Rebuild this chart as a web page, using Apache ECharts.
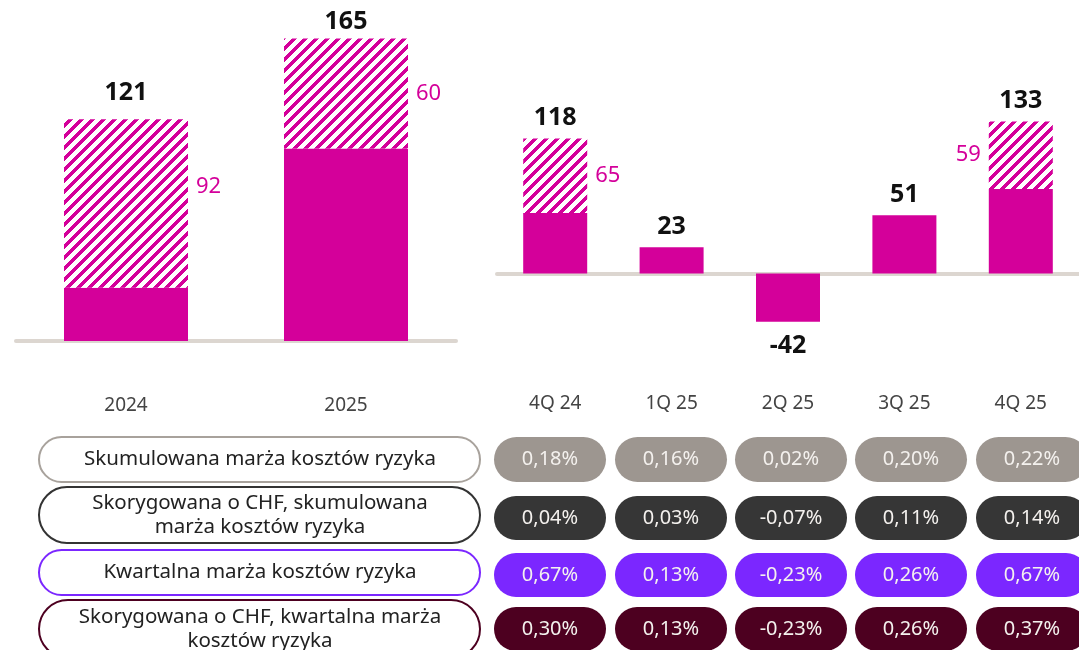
<!DOCTYPE html>
<html>
<head>
<meta charset="utf-8">
<script src="https://cdn.jsdelivr.net/npm/echarts@6/dist/echarts.min.js"></script>
<style>
  html, body { margin: 0; padding: 0; background: #fff; }
  #chart { width: 1079px; height: 650px; }
</style>
</head>
<body>
<div id="chart"></div>
<script>
// dane roczne
var years = ['2024', '2025'];
var yearTotal = [121, 165];
var yearHatch = [92, 60];

// dane kwartalne
var quarters = ['4Q 24', '1Q 25', '2Q 25', '3Q 25', '4Q 25'];
var quarterTotal = [118, 23, -42, 51, 133];
var quarterHatch = [65, null, null, null, 59];

// tabela marż
var rowLabels = [
  'Skumulowana marża kosztów ryzyka',
  'Skorygowana o CHF, skumulowana\nmarża kosztów ryzyka',
  'Kwartalna marża kosztów ryzyka',
  'Skorygowana o CHF, kwartalna marża\nkosztów ryzyka'
];
var rowCumulative = [0.18, 0.16, 0.02, 0.20, 0.22];
var rowCumulativeChf = [0.04, 0.03, -0.07, 0.11, 0.14];
var rowQuarterly = [0.67, 0.13, -0.23, 0.26, 0.67];
var rowQuarterlyChf = [0.30, 0.13, -0.23, 0.26, 0.37];

var MAGENTA = '#d4009a';
var FONT = '"Noto Sans", "Open Sans", sans-serif';

function solidPart(total, hatch) {
  return total.map(function (t, i) { return hatch[i] == null ? t : t - hatch[i]; });
}

// wzór kreskowania
function makeHatch() {
  var p = 11, w = 5;
  var c = document.createElement('canvas');
  c.width = p; c.height = p;
  var ctx = c.getContext('2d');
  var img = ctx.createImageData(p, p);
  for (var y = 0; y < p; y++) {
    for (var x = 0; x < p; x++) {
      var k = (y * p + x) * 4;
      var on = ((x + y) % p) < w;
      img.data[k] = on ? 0xd4 : 255;
      img.data[k + 1] = on ? 0x00 : 255;
      img.data[k + 2] = on ? 0x9a : 255;
      img.data[k + 3] = 255;
    }
  }
  ctx.putImageData(img, 0, 0);
  return c;
}
var hatchFill = { image: makeHatch(), repeat: 'repeat' };

function fmtPct(v) {
  return v.toFixed(2).replace('.', ',') + '%';
}

// tabela jako grafika
var graphic = [];
var labelBoxes = [
  { y: 437, h: 45, stroke: '#a8a29c' },
  { y: 487, h: 56, stroke: '#333333' },
  { y: 550, h: 45, stroke: '#7b27ff' },
  { y: 600, h: 58, stroke: '#4d0020' }
];
var valueRows = [
  { y: 437, h: 45, fill: '#9d9690', data: rowCumulative },
  { y: 496, h: 44, fill: '#363636', data: rowCumulativeChf },
  { y: 553, h: 44, fill: '#7b27ff', data: rowQuarterly },
  { y: 607, h: 44, fill: '#4d0020', data: rowQuarterlyChf }
];
var colCenters = [550, 671, 791, 911, 1032];

labelBoxes.forEach(function (b, i) {
  graphic.push({
    type: 'rect', silent: true,
    shape: { x: 39, y: b.y, width: 441, height: b.h, r: b.h / 2 },
    style: { fill: '#fff', stroke: b.stroke, lineWidth: 2 }
  });
  graphic.push({
    type: 'text', silent: true,
    x: 260, y: b.y + b.h / 2,
    style: {
      text: rowLabels[i], fill: '#222', font: '20.5px ' + FONT,
      lineHeight: 24, align: 'center', verticalAlign: 'middle'
    }
  });
});

valueRows.forEach(function (row) {
  row.data.forEach(function (v, j) {
    graphic.push({
      type: 'rect', silent: true,
      shape: { x: colCenters[j] - 56, y: row.y, width: 112, height: row.h, r: row.h / 2 },
      style: { fill: row.fill }
    });
    graphic.push({
      type: 'text', silent: true,
      x: colCenters[j], y: row.y + row.h / 2,
      style: {
        text: fmtPct(v), fill: '#f4f1ee', font: '20px ' + FONT,
        align: 'center', verticalAlign: 'middle'
      }
    });
  });
});

var totalLabel = {
  show: true, position: 'top', distance: 8,
  color: '#111', fontFamily: FONT, fontSize: 25, fontWeight: 'bold'
};
var hatchLabel = {
  show: true, position: 'right', distance: 8,
  color: MAGENTA, fontFamily: FONT, fontSize: 22
};

var chart = echarts.init(document.getElementById('chart'));
chart.setOption({
  animation: false,
  backgroundColor: '#fff',
  grid: [
    { left: 16, width: 440, top: 11, height: 330 },
    { left: 497, width: 582, top: 102, height: 286 }
  ],
  xAxis: [
    {
      type: 'category', gridIndex: 0, data: years,
      axisLine: { lineStyle: { color: '#dcd6d0', width: 4 } },
      axisTick: { show: false },
      axisLabel: { color: '#444', fontFamily: FONT, fontSize: 19, margin: 55 }
    },
    {
      type: 'category', gridIndex: 1, data: quarters,
      axisLine: { onZero: true, lineStyle: { color: '#dcd6d0', width: 4 } },
      axisTick: { show: false },
      axisLabel: { color: '#444', fontFamily: FONT, fontSize: 19, margin: 6 }
    }
  ],
  yAxis: [
    { type: 'value', gridIndex: 0, min: 0, max: 180, show: false },
    { type: 'value', gridIndex: 1, min: -100, max: 150, show: false }
  ],
  series: [
    {
      type: 'bar', xAxisIndex: 0, yAxisIndex: 0, stack: 'rok',
      barWidth: 124, barGap: '-100%',
      itemStyle: { color: MAGENTA },
      data: solidPart(yearTotal, yearHatch)
    },
    {
      type: 'bar', xAxisIndex: 0, yAxisIndex: 0, stack: 'rok',
      barWidth: 124, barGap: '-100%',
      itemStyle: { color: hatchFill },
      label: hatchLabel,
      data: yearHatch.map(function (v, i) {
        return i === 0 ? { value: v, label: { offset: [0, -17] } } : v;
      })
    },
    {
      type: 'bar', xAxisIndex: 0, yAxisIndex: 0, silent: true,
      barWidth: 124, barGap: '-100%',
      itemStyle: { color: 'rgba(0,0,0,0)' },
      label: totalLabel,
      data: yearTotal.map(function (v, i) {
        return { value: v, label: { distance: i === 0 ? 14 : 4 } };
      })
    },
    {
      type: 'bar', xAxisIndex: 1, yAxisIndex: 1, stack: 'kw',
      barWidth: 64, barGap: '-100%',
      itemStyle: { color: MAGENTA },
      data: solidPart(quarterTotal, quarterHatch)
    },
    {
      type: 'bar', xAxisIndex: 1, yAxisIndex: 1, stack: 'kw',
      barWidth: 64, barGap: '-100%',
      itemStyle: { color: hatchFill },
      label: hatchLabel,
      data: quarterHatch.map(function (v, i) {
        return i === quarterHatch.length - 1 ? { value: v, label: { position: 'left' } } : v;
      })
    },
    {
      type: 'bar', xAxisIndex: 1, yAxisIndex: 1, silent: true,
      barWidth: 64, barGap: '-100%',
      itemStyle: { color: 'rgba(0,0,0,0)' },
      label: totalLabel,
      data: quarterTotal.map(function (v) {
        return v < 0 ? { value: v, label: { position: 'bottom', distance: 12 } } : v;
      })
    }
  ],
  graphic: graphic
});
window.addEventListener('resize', function () { chart.resize(); });
</script>
</body>
</html>
